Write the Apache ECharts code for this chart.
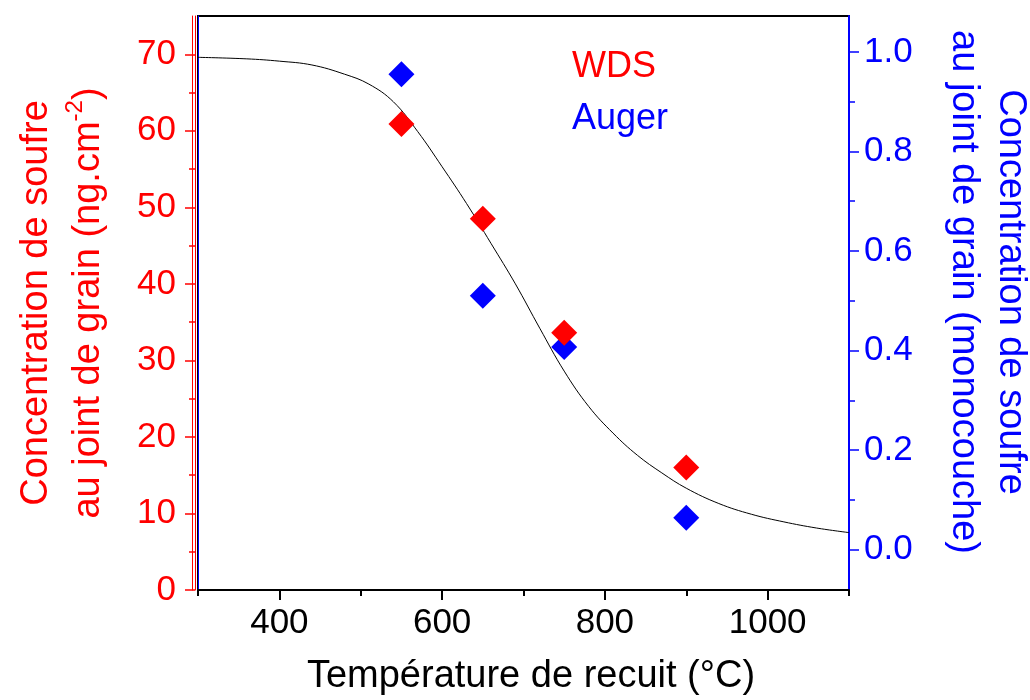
<!DOCTYPE html>
<html lang="fr">
<head>
<meta charset="utf-8">
<title>Concentration de soufre au joint de grain</title>
<script src="https://cdn.jsdelivr.net/npm/echarts@6.0.0/dist/echarts.min.js"></script>
<style>
    html, body { margin: 0; padding: 0; background: #fff; }
    #chart { width: 1030px; height: 700px; }
</style>
</head>
<body>
<div id="chart"></div>
<script>
// --- données ---
const temperatures = [550, 650, 750, 900];
const wdsValues = [60.9, 48.5, 33.6, 16.0];          // ng.cm-2 (axe gauche)
const augerValues = [0.955, 0.510, 0.407, 0.064];    // monocouche (axe droit)

// courbe d'ajustement (points relevés le long du trait noir)
const fitTemps = [300, 360, 400, 440, 480, 510, 540, 570, 600, 630, 660, 690,
                  720, 750, 780, 810, 840, 870, 900, 940, 980, 1020, 1060, 1100];
const fitValues = [69.6, 69.4, 69.1, 68.6, 67.4, 66.1, 63.8, 59.9, 55.3, 50.5, 45.3, 40.0,
                   34.2, 28.6, 24.0, 20.5, 17.6, 15.3, 13.3, 11.3, 9.9, 8.9, 8.1, 7.5];

// graduations
const xMajorTicks = [400, 600, 800, 1000];
const xMinorTicks = [300, 500, 700, 900, 1100];
const leftMajorTicks = [0, 10, 20, 30, 40, 50, 60, 70];
const leftMinorTicks = [5, 15, 25, 35, 45, 55, 65];
const rightMajorTicks = [0, 0.2, 0.4, 0.6, 0.8, 1.0];
const rightMinorTicks = [0.1, 0.3, 0.5, 0.7, 0.9];

document.addEventListener('DOMContentLoaded', function () {
    const FONT = '"Liberation Sans", Arial, Helvetica, sans-serif';
    const RED = '#ff0000';
    const BLUE = '#0000ff';

    const chart = echarts.init(document.getElementById('chart'));

    const fitData = fitTemps.map((t, i) => [t, fitValues[i]]);
    const wdsData = temperatures.map((t, i) => [t, wdsValues[i]]);
    const augerData = temperatures.map((t, i) => [t, augerValues[i]]);

    const xRange = { min: 300, max: 1100 };
    const leftRange = { min: 0, max: 75 };
    const rightRange = { min: -0.081, max: 1.072 };

    const option = {
        animation: false,
        textStyle: { fontFamily: FONT },
        grid: {
            left: 198,
            right: 181,
            top: 16,
            bottom: 110,
            show: true,
            borderColor: '#000',
            borderWidth: 2,
            outerBoundsMode: 'none'
        },
        legend: {
            orient: 'vertical',
            left: 562,
            top: 44,
            icon: 'none',
            itemWidth: 0,
            itemHeight: 36,
            itemGap: 16,
            selectedMode: false,
            textStyle: { fontSize: 36, fontFamily: FONT },
            data: [
                { name: 'WDS', textStyle: { color: RED } },
                { name: 'Auger', textStyle: { color: BLUE } }
            ]
        },
        xAxis: [
            {
                type: 'value',
                position: 'bottom',
                min: xRange.min,
                max: xRange.max,
                splitLine: { show: false },
                axisLine: { lineStyle: { color: '#000', width: 2 } },
                axisTick: { customValues: xMajorTicks, length: 10, lineStyle: { color: '#000', width: 2 } },
                axisLabel: {
                    customValues: xMajorTicks,
                    color: '#000',
                    fontSize: 35,
                    margin: 16,
                    formatter: v => String(v)
                },
                name: 'Température de recuit (°C)',
                nameLocation: 'middle',
                nameGap: 68,
                nameTextStyle: { color: '#000', fontSize: 38, padding: [0, 0, 0, 15] }
            },
            {
                // petites graduations
                type: 'value',
                position: 'bottom',
                min: xRange.min,
                max: xRange.max,
                splitLine: { show: false },
                axisLine: { show: false },
                axisTick: { customValues: xMinorTicks, length: 6, lineStyle: { color: '#000', width: 2 } },
                axisLabel: { show: false }
            }
        ],
        yAxis: [
            {
                // axe gauche (WDS)
                type: 'value',
                position: 'left',
                offset: 3,
                min: leftRange.min,
                max: leftRange.max,
                splitLine: { show: false },
                axisLine: { show: true, lineStyle: { color: RED, width: 1 } },
                axisTick: { customValues: leftMajorTicks, length: 10, lineStyle: { color: RED, width: 1.5 } },
                axisLabel: { customValues: leftMajorTicks, color: RED, fontSize: 35, margin: 19 },
                name: 'Concentration de soufre\nau joint de grain (ng.cm{sup|-2})',
                nameLocation: 'middle',
                nameGap: 80,
                nameTextStyle: {
                    color: RED,
                    fontSize: 38,
                    lineHeight: 52,
                    rich: {
                        sup: { color: RED, fontSize: 24, verticalAlign: 'top', lineHeight: 30 }
                    }
                }
            },
            {
                type: 'value',
                position: 'left',
                offset: 3,
                min: leftRange.min,
                max: leftRange.max,
                splitLine: { show: false },
                axisLine: { show: false },
                axisTick: { customValues: leftMinorTicks, length: 6, lineStyle: { color: RED, width: 1.5 } },
                axisLabel: { show: false }
            },
            {
                // second trait rouge
                type: 'value',
                position: 'left',
                offset: 6,
                min: leftRange.min,
                max: leftRange.max,
                splitLine: { show: false },
                axisLine: { show: true, lineStyle: { color: RED, width: 1 } },
                axisTick: { show: false },
                axisLabel: { show: false }
            },
            {
                // bord gauche du cadre
                type: 'value',
                position: 'left',
                offset: 0,
                min: leftRange.min,
                max: leftRange.max,
                splitLine: { show: false },
                axisLine: { show: true, lineStyle: { color: BLUE, width: 1 } },
                axisTick: { show: false },
                axisLabel: { show: false }
            },
            {
                // axe droit (Auger)
                type: 'value',
                position: 'right',
                min: rightRange.min,
                max: rightRange.max,
                splitLine: { show: false },
                axisLine: { show: true, lineStyle: { color: BLUE, width: 2 } },
                axisTick: { customValues: rightMajorTicks, length: 10, lineStyle: { color: BLUE, width: 1.5 } },
                axisLabel: {
                    customValues: rightMajorTicks,
                    color: BLUE,
                    fontSize: 35,
                    margin: 15,
                    formatter: v => v.toFixed(1)
                },
                name: 'Concentration de soufre\nau joint de grain (monocouche)',
                nameLocation: 'middle',
                nameRotate: -90,
                nameGap: 91,
                nameTextStyle: { color: BLUE, fontSize: 38, lineHeight: 47, padding: [0, 22, 0, 0] }
            },
            {
                type: 'value',
                position: 'right',
                min: rightRange.min,
                max: rightRange.max,
                splitLine: { show: false },
                axisLine: { show: false },
                axisTick: { customValues: rightMinorTicks, length: 6, lineStyle: { color: BLUE, width: 1.5 } },
                axisLabel: { show: false }
            }
        ],
        series: [
            {
                name: 'fit',
                type: 'line',
                yAxisIndex: 0,
                data: fitData,
                smooth: 0.4,
                showSymbol: false,
                silent: true,
                lineStyle: { color: '#000', width: 1 },
                z: 1
            },
            {
                name: 'Auger',
                type: 'scatter',
                yAxisIndex: 4,
                data: augerData,
                symbol: 'diamond',
                symbolSize: 26,
                itemStyle: { color: BLUE, opacity: 1 },
                z: 2
            },
            {
                name: 'WDS',
                type: 'scatter',
                yAxisIndex: 0,
                data: wdsData,
                symbol: 'diamond',
                symbolSize: 26,
                itemStyle: { color: RED, opacity: 1 },
                z: 3
            }
        ]
    };

    chart.setOption(option);

    window.addEventListener('resize', function () {
        chart.resize();
    });
});
</script>
</body>
</html>
